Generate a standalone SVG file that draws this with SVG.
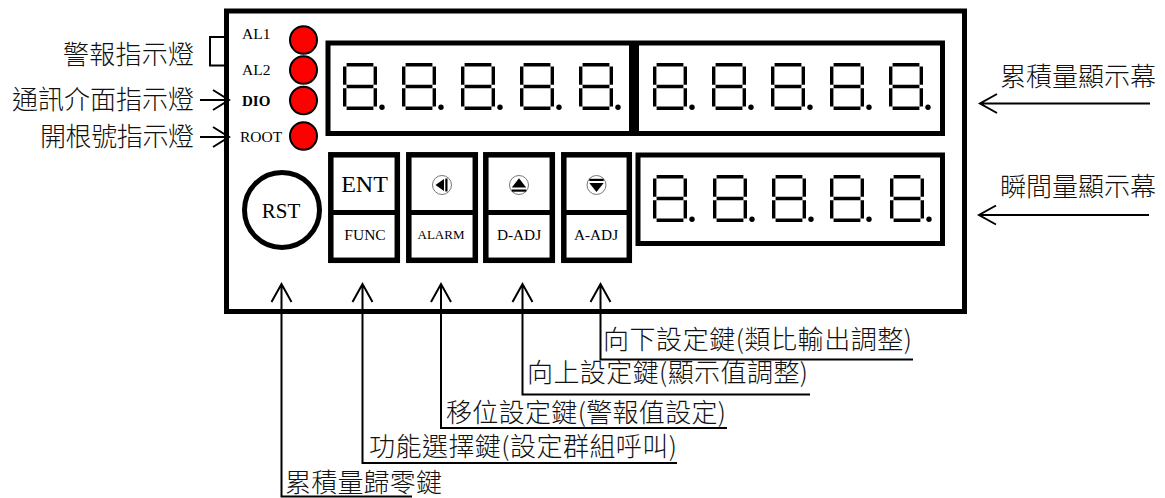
<svg xmlns="http://www.w3.org/2000/svg" xmlns:xlink="http://www.w3.org/1999/xlink" width="1165" height="498" viewBox="0 0 1165 498">
<style>
.bg{fill:#fff}
.thick{fill:none;stroke:#000;stroke-width:5}
.btn{fill:#fff;stroke:#000;stroke-width:5.5}
.led{fill:#f00;stroke:#000;stroke-width:2}
.seg{fill:none;stroke:#000;stroke-width:3.4;stroke-linecap:butt}
.ln{fill:none;stroke:#000;stroke-width:2}
.cjk{font-family:"Noto Sans CJK TC","Noto Sans CJK SC",sans-serif;font-size:26px;font-weight:300;fill:#111}
.lat{font-family:"Liberation Serif","Times New Roman",serif;fill:#000}
.ico{fill:#fff;stroke:#777;stroke-width:1}
</style>
<defs>
<g id="d8">
<path class="seg" d="M3.6,1.7H30.4M3.6,23.5H30.4M3.6,45.3H30.4M1.7,3.6V21.7M1.7,25.3V43.4M32.3,3.6V21.7M32.3,25.3V43.4"/>
<circle cx="39" cy="44.2" r="2.7" fill="#000"/>
</g>
</defs>
<rect class="bg" x="0" y="0" width="1165" height="498"/>

<g id="frame">
<rect class="thick" x="226.5" y="11" width="738" height="300.5"/>
</g>

<g id="leds">
<text class="lat" x="242" y="39" font-size="15.5">AL1</text>
<text class="lat" x="242" y="75" font-size="15.5">AL2</text>
<text class="lat" x="242" y="105.5" font-size="15" font-weight="bold">DIO</text>
<text class="lat" x="240" y="141.7" font-size="15.5">ROOT</text>
<ellipse class="led" cx="303.5" cy="40" rx="13.5" ry="13.8"/>
<ellipse class="led" cx="303.5" cy="70" rx="13.5" ry="13.8"/>
<ellipse class="led" cx="303.5" cy="100.5" rx="13.5" ry="13.8"/>
<ellipse class="led" cx="303.5" cy="136" rx="13.5" ry="13.8"/>
</g>

<g id="display-total-left">
<rect class="thick" x="328" y="43" width="303.5" height="90.5"/>
<use xlink:href="#d8" x="343" y="63"/>
<use xlink:href="#d8" x="402" y="63"/>
<use xlink:href="#d8" x="461" y="63"/>
<use xlink:href="#d8" x="520" y="63"/>
<use xlink:href="#d8" x="579" y="63"/>
</g>
<g id="display-total-right">
<rect class="thick" x="636.5" y="43" width="306" height="90.5"/>
<use xlink:href="#d8" x="653" y="63"/>
<use xlink:href="#d8" x="712" y="63"/>
<use xlink:href="#d8" x="771" y="63"/>
<use xlink:href="#d8" x="830" y="63"/>
<use xlink:href="#d8" x="889" y="63"/>
</g>
<g id="display-instant">
<rect class="thick" x="638" y="155" width="304.5" height="88.5"/>
<use xlink:href="#d8" x="653" y="175"/>
<use xlink:href="#d8" x="713" y="175"/>
<use xlink:href="#d8" x="772" y="175"/>
<use xlink:href="#d8" x="830" y="175"/>
<use xlink:href="#d8" x="890" y="175"/>
</g>

<g id="btn-rst">
<circle cx="282" cy="210" r="37.5" fill="#fff" stroke="#000" stroke-width="5"/>
<text class="lat" x="281" y="218" font-size="21" text-anchor="middle">RST</text>
</g>

<g id="btn-ent-func">
<rect class="btn" x="330.8" y="154.8" width="66.5" height="105.5"/>
<line x1="330.8" y1="212.5" x2="397.3" y2="212.5" stroke="#000" stroke-width="5"/>
<text class="lat" x="364.5" y="192" font-size="24" text-anchor="middle">ENT</text>
<text class="lat" x="365" y="240" font-size="15.5" text-anchor="middle">FUNC</text>
</g>

<g id="btn-alarm">
<rect class="btn" x="408.8" y="154.8" width="66.5" height="105.5"/>
<line x1="408.8" y1="212.5" x2="475.3" y2="212.5" stroke="#000" stroke-width="5"/>
<circle class="ico" cx="442" cy="185" r="9.5"/>
<polygon points="435.5,185 444,179 444,191" fill="#000"/>
<rect x="445.3" y="178.5" width="2.2" height="13" fill="#000"/>
<text class="lat" x="441" y="239" font-size="13" text-anchor="middle">ALARM</text>
</g>

<g id="btn-d-adj">
<rect class="btn" x="485.8" y="154.8" width="66.5" height="105.5"/>
<line x1="485.8" y1="212.5" x2="552.3" y2="212.5" stroke="#000" stroke-width="5"/>
<circle class="ico" cx="519" cy="185" r="9.5"/>
<polygon points="519,178.2 511.8,187.5 526.2,187.5" fill="#000"/>
<rect x="511.8" y="189.5" width="14.4" height="2.2" fill="#000"/>
<text class="lat" x="519" y="240" font-size="15.3" text-anchor="middle">D-ADJ</text>
</g>

<g id="btn-a-adj">
<rect class="btn" x="563.8" y="154.8" width="65.5" height="105.5"/>
<line x1="563.8" y1="212.5" x2="629.3" y2="212.5" stroke="#000" stroke-width="5"/>
<circle class="ico" cx="596.5" cy="185" r="9.5"/>
<rect x="589.3" y="178.8" width="14.4" height="2.2" fill="#000"/>
<polygon points="589.3,183 603.7,183 596.5,192" fill="#000"/>
<text class="lat" x="596" y="240" font-size="15.3" text-anchor="middle">A-ADJ</text>
</g>

<g id="labels-left">
<text class="cjk" x="194" y="63.5" text-anchor="end" textLength="131" lengthAdjust="spacing">警報指示燈</text>
<text class="cjk" x="194" y="108.5" text-anchor="end" textLength="182" lengthAdjust="spacing">通訊介面指示燈</text>
<text class="cjk" x="194" y="145.5" text-anchor="end" textLength="154" lengthAdjust="spacing">開根號指示燈</text>
</g>
<g id="labels-right">
<text class="cjk" x="1000" y="85.5" textLength="156" lengthAdjust="spacing">累積量顯示幕</text>
<text class="cjk" x="1000" y="195.5" textLength="156" lengthAdjust="spacing">瞬間量顯示幕</text>
</g>
<g id="labels-bottom">
<text class="cjk" x="603" y="349" textLength="309" lengthAdjust="spacing">向下設定鍵(類比輸出調整)</text>
<text class="cjk" x="527" y="382" textLength="281" lengthAdjust="spacing">向上設定鍵(顯示值調整)</text>
<text class="cjk" x="446" y="421.5" textLength="280" lengthAdjust="spacing">移位設定鍵(警報值設定)</text>
<text class="cjk" x="369" y="455.5" textLength="308" lengthAdjust="spacing">功能選擇鍵(設定群組呼叫)</text>
<text class="cjk" x="285" y="491.5" textLength="157" lengthAdjust="spacing">累積量歸零鍵</text>
</g>

<g id="connectors">
<path class="ln" d="M226,37H210V65.5H226"/>
<path class="ln" d="M200,100H229M213,90L229,100L213,110"/>
<path class="ln" d="M200,137H229M213,127L229,137L213,147"/>
<path class="ln" d="M1150,103.5H980M997,94L980,103.5L997,113"/>
<path class="ln" d="M1149,215H979M996,205.5L979,215L996,224.5"/>
<path class="ln" d="M271.5,302L281.5,284L291.5,302M281.5,284V496.5H412"/>
<path class="ln" d="M352.5,302L362.5,284L372.5,302M362.5,284V463H677"/>
<path class="ln" d="M431,302L441,284L451,302M441,284V428H727"/>
<path class="ln" d="M512.5,302L522.5,284L532.5,302M522.5,284V394.5H810"/>
<path class="ln" d="M590.5,302L600.5,284L610.5,302M600.5,284V359.5H913"/>
</g>
</svg>
